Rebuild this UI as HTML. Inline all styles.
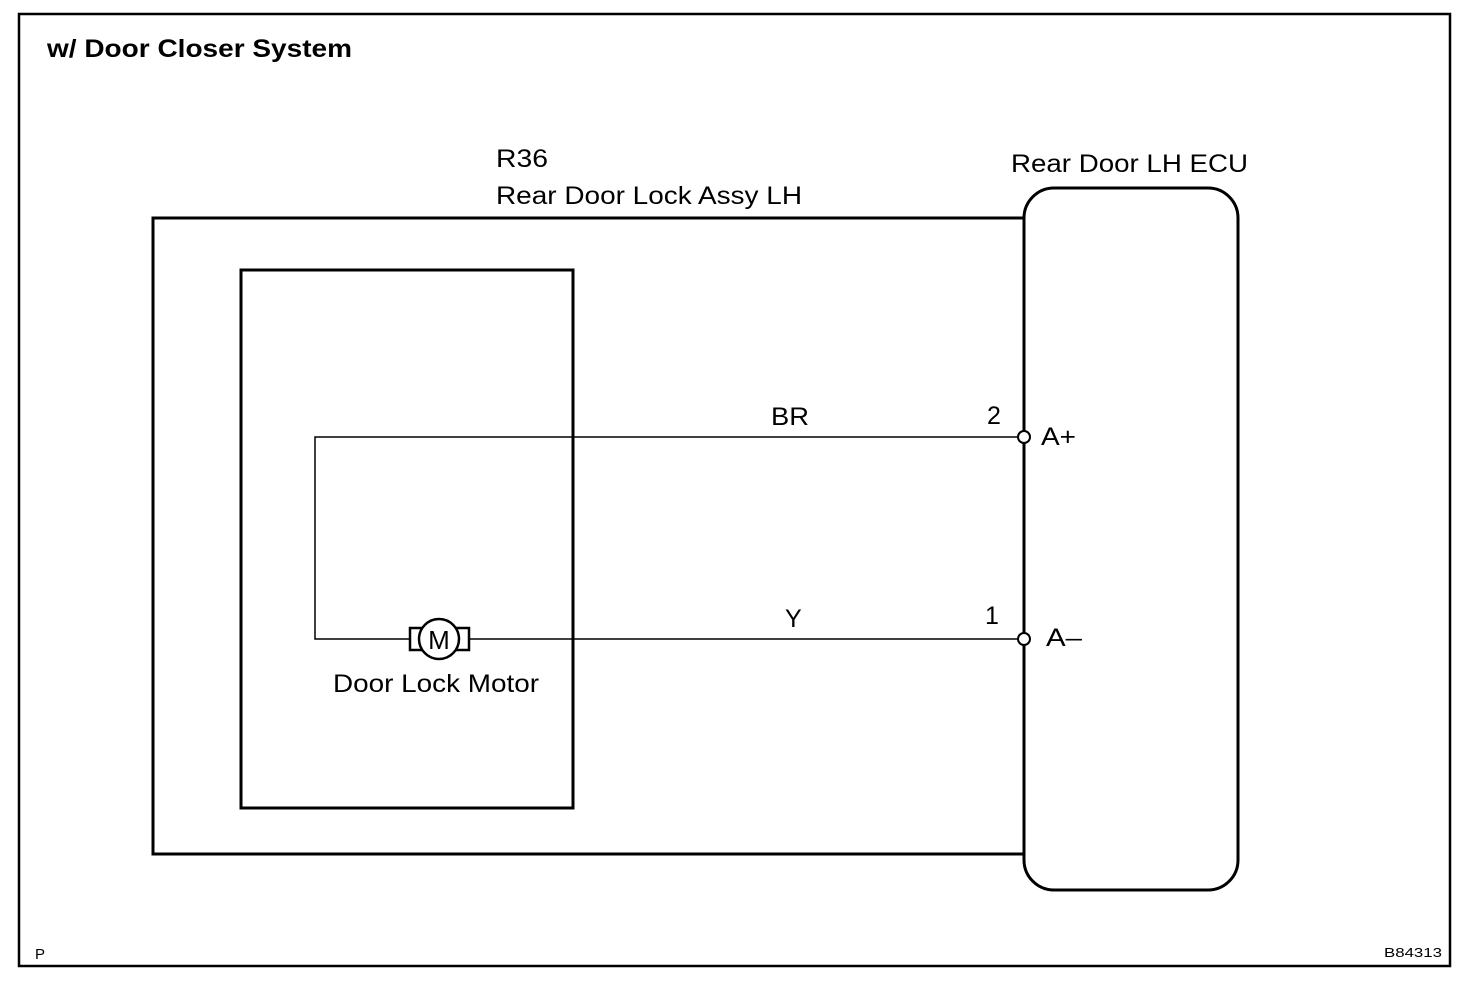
<!DOCTYPE html>
<html><head><style>body{margin:0;background:#fff}</style></head><body>
<svg width="1472" height="990" xmlns="http://www.w3.org/2000/svg" font-family="Liberation Sans, Arial, sans-serif">
<rect x="0" y="0" width="1472" height="990" fill="#fff"/>
<rect x="19" y="14" width="1431" height="952" fill="none" stroke="#000" stroke-width="2.5"/>
<text x="47" y="57" font-size="25" font-weight="bold" textLength="305" lengthAdjust="spacingAndGlyphs">w/ Door Closer System</text>
<text x="496" y="167" font-size="25" textLength="52" lengthAdjust="spacingAndGlyphs">R36</text>
<text x="496" y="204" font-size="25" textLength="306" lengthAdjust="spacingAndGlyphs">Rear Door Lock Assy LH</text>
<text x="1011" y="172" font-size="25" textLength="237" lengthAdjust="spacingAndGlyphs">Rear Door LH ECU</text>
<polyline points="1024,218 153,218 153,854 1024,854" fill="none" stroke="#000" stroke-width="3"/>
<rect x="241" y="270" width="332" height="538" fill="none" stroke="#000" stroke-width="3"/>
<rect x="1024" y="188" width="214" height="702" rx="30" ry="30" fill="none" stroke="#000" stroke-width="3"/>
<polyline points="1019,437 315,437 315,639 410,639" fill="none" stroke="#000" stroke-width="1.5"/>
<line x1="470" y1="639" x2="1019" y2="639" stroke="#000" stroke-width="1.5"/>
<rect x="410" y="628" width="14" height="22" fill="none" stroke="#000" stroke-width="2.5"/>
<rect x="455" y="628" width="14" height="22" fill="none" stroke="#000" stroke-width="2.5"/>
<circle cx="439" cy="639" r="20" fill="#fff" stroke="#000" stroke-width="2.5"/>
<text x="439" y="649" font-size="26" text-anchor="middle">M</text>
<text x="333" y="692" font-size="25" textLength="206" lengthAdjust="spacingAndGlyphs">Door Lock Motor</text>
<circle cx="1024" cy="437" r="6" fill="#fff" stroke="#000" stroke-width="2"/>
<circle cx="1024" cy="639" r="6" fill="#fff" stroke="#000" stroke-width="2"/>
<text x="771" y="425" font-size="25" textLength="38" lengthAdjust="spacingAndGlyphs">BR</text>
<text x="987" y="424" font-size="25">2</text>
<text x="1041" y="445" font-size="25" textLength="35" lengthAdjust="spacingAndGlyphs">A+</text>
<text x="785" y="627" font-size="25">Y</text>
<text x="985" y="624" font-size="25">1</text>
<text x="1046" y="646" font-size="25" textLength="36" lengthAdjust="spacingAndGlyphs">A–</text>
<text x="35" y="959" font-size="15">P</text>
<text x="1384" y="957" font-size="13" textLength="58" lengthAdjust="spacingAndGlyphs">B84313</text>
</svg>
</body></html>
